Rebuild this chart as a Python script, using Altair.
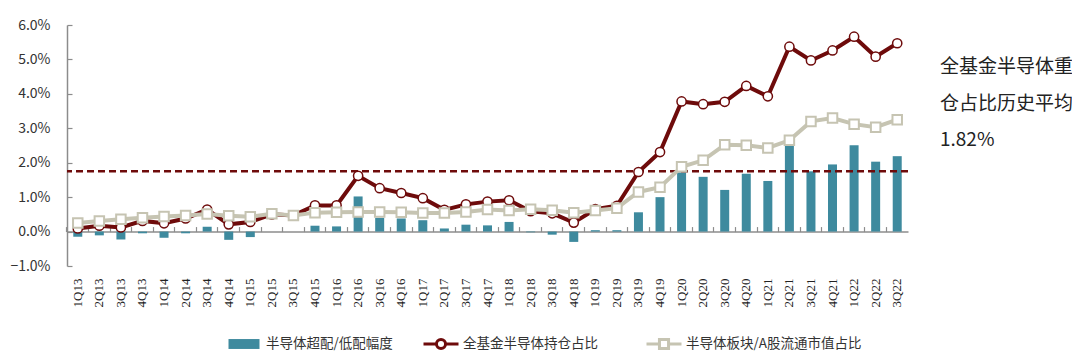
import altair as alt
import pandas as pd

quarters = [
    "1Q13", "2Q13", "3Q13", "4Q13",
    "1Q14", "2Q14", "3Q14", "4Q14",
    "1Q15", "2Q15", "3Q15", "4Q15",
    "1Q16", "2Q16", "3Q16", "4Q16",
    "1Q17", "2Q17", "3Q17", "4Q17",
    "1Q18", "2Q18", "3Q18", "4Q18",
    "1Q19", "2Q19", "3Q19", "4Q19",
    "1Q20", "2Q20", "3Q20", "4Q20",
    "1Q21", "2Q21", "3Q21", "4Q21",
    "1Q22", "2Q22", "3Q22",
]
overweight = [
    -0.15, -0.11, -0.23, -0.05,
    -0.18, -0.05, 0.14, -0.24,
    -0.16, 0.0, 0.0, 0.17,
    0.15, 1.02, 0.40, 0.38,
    0.33, 0.09, 0.20, 0.18,
    0.28, -0.02, -0.09, -0.30,
    0.04, 0.04, 0.56, 1.00,
    1.72, 1.59, 1.21, 1.68,
    1.47, 2.49, 1.75, 1.95,
    2.51, 2.03, 2.19,
]
fund_share = [
    0.09, 0.17, 0.12, 0.31,
    0.24, 0.38, 0.64, 0.21,
    0.28, 0.50, 0.47, 0.76,
    0.76, 1.62, 1.26, 1.12,
    0.97, 0.63, 0.79, 0.87,
    0.91, 0.59, 0.53, 0.26,
    0.65, 0.75, 1.73, 2.31,
    3.78, 3.70, 3.77, 4.23,
    3.93, 5.37, 4.97, 5.26,
    5.66, 5.08, 5.47,
]
market_share = [
    0.25, 0.31, 0.36, 0.40,
    0.44, 0.47, 0.51, 0.46,
    0.43, 0.52, 0.47, 0.55,
    0.56, 0.57, 0.57, 0.56,
    0.54, 0.54, 0.57, 0.64,
    0.61, 0.65, 0.62, 0.55,
    0.61, 0.68, 1.15, 1.29,
    1.88, 2.07, 2.52, 2.51,
    2.43, 2.65, 3.20, 3.30,
    3.12, 3.03, 3.25,
]
hist_avg = [1.75]
y_ticks = [-1, 0, 1, 2, 3, 4, 5, 6]
legend_labels = ["半导体超配/低配幅度", "全基金半导体持仓占比", "半导体板块/A股流通市值占比"]
annotation_lines = ["全基金半导体重", "仓占比历史平均", "1.82%"]

TEAL = "#3E8A9E"
RED = "#6E0B0B"
BEIGE = "#C6C4B2"
GRAY = "#8C8C8C"
W, H = 841, 241

df = pd.DataFrame({
    "q": quarters, "ow": overweight, "fund": fund_share, "mkt": market_share,
    "s1": legend_labels[0], "s2": legend_labels[1], "s3": legend_labels[2],
})

yscale = alt.Scale(domain=[-1, 6], nice=False, zero=False)
xscale = alt.Scale(paddingInner=0, paddingOuter=0)

x_bottom = alt.X("q:N", sort=quarters, scale=xscale, title=None,
                 axis=alt.Axis(orient="bottom", labelAngle=270, domain=False, ticks=False,
                               labelPadding=12, labelFont="Liberation Serif", labelFontSize=13,
                               labelColor="#222222", grid=False))
x_top = alt.X("q:N", sort=quarters, scale=xscale, title=None,
              axis=alt.Axis(orient="top", offset=-(H * 6 / 7), labels=False, domain=True,
                            domainColor=GRAY, domainWidth=1.5, ticks=True, tickSize=5,
                            tickColor=GRAY, tickWidth=1.2, bandPosition=0, grid=False))
x_none = alt.X("q:N", sort=quarters, scale=xscale, axis=None)

y_left = alt.Y("ow:Q", scale=yscale, title=None,
               axis=alt.Axis(orient="left", values=y_ticks,
                             labelExpr="format(datum.value, '.1f') + '%'",
                             domain=True, domainColor=GRAY, domainWidth=1.5, ticks=False,
                             labelPadding=17, labelFont="Noto Sans CJK SC", labelFontSize=14,
                             labelColor="#333333", grid=False))
y_right = alt.Y("mkt:Q", scale=yscale, title=None,
                axis=alt.Axis(orient="right", offset=-W, values=y_ticks, labels=False,
                              domain=False, ticks=True, tickSize=5, tickColor=GRAY,
                              tickWidth=1.2, grid=False))

def legend(x, y, path, size, offset):
    return alt.Legend(orient="none", legendX=x, legendY=y, title=None, symbolType=path,
                      symbolSize=size, symbolStrokeWidth=3, labelOffset=offset,
                      labelFont="Noto Sans CJK SC", labelFontSize=13.5, labelColor="#333333",
                      labelLimit=400, padding=0)

base = alt.Chart(df)

bars = base.mark_bar(size=9).encode(
    x=x_bottom, y=y_left,
    fill=alt.Fill("s1:N", scale=alt.Scale(domain=[legend_labels[0]], range=[TEAL]),
                  legend=legend(160, 302, "M-1,-0.32H1V0.32H-1Z", 961, 5)),
)

avg_rule = alt.Chart(pd.DataFrame({"avg": hist_avg})).mark_rule(
    color=RED, strokeWidth=2.5, strokeDash=[7, 4]
).encode(y=alt.Y("avg:Q", scale=yscale, axis=None))

red_path = ("M-1,0H-0.26M0.26,0H1M-0.26,0A0.26,0.26 0 1 0 0.26,0"
            "A0.26,0.26 0 1 0 -0.26,0Z")
fund_line = base.mark_line(strokeWidth=4).encode(
    x=x_top, y=alt.Y("fund:Q", scale=yscale, axis=None),
    stroke=alt.Stroke("s2:N", scale=alt.Scale(domain=[legend_labels[1]], range=[RED]),
                      legend=legend(355, 300, red_path, 1225, 3)),
)
fund_pts = base.mark_point(shape="circle", filled=True, fill="white", stroke=RED,
                           strokeWidth=1.5, size=85, opacity=1).encode(
    x=x_none, y=alt.Y("fund:Q", scale=yscale, axis=None))

sq_path = "M-1,0H-0.26M0.26,0H1M-0.26,-0.26H0.26V0.26H-0.26Z"
mkt_line = base.mark_line(strokeWidth=4).encode(
    x=x_none, y=y_right,
    stroke=alt.Stroke("s3:N", scale=alt.Scale(domain=[legend_labels[2]], range=[BEIGE]),
                      legend=legend(578, 300, sq_path, 1225, 3)),
)
mkt_pts = base.mark_point(shape="square", filled=True, fill="white", stroke=BEIGE,
                          strokeWidth=2, size=90, opacity=1).encode(
    x=x_none, y=alt.Y("mkt:Q", scale=yscale, axis=None))

note = alt.Chart(pd.DataFrame({"t": ["\n".join(annotation_lines)]})).mark_text(
    align="left", baseline="middle", lineBreak="\n", lineHeight=36.5, fontSize=19,
    font="Noto Sans CJK SC", color="#222222"
).encode(text="t:N", x=alt.value(W + 32), y=alt.value(42))

chart = alt.layer(bars, avg_rule, fund_line, fund_pts, mkt_line, mkt_pts, note).resolve_scale(
    stroke="independent"
).resolve_axis(x="independent", y="independent").resolve_legend(
    stroke="independent", fill="independent"
).properties(
    width=W, height=H,
    padding={"left": 59, "top": 17, "right": 164, "bottom": 87},
    autosize=alt.AutoSizeParams(type="none"),
).configure_view(stroke=None)

chart.save("out.html", embed_options={"renderer": "svg", "actions": False})
